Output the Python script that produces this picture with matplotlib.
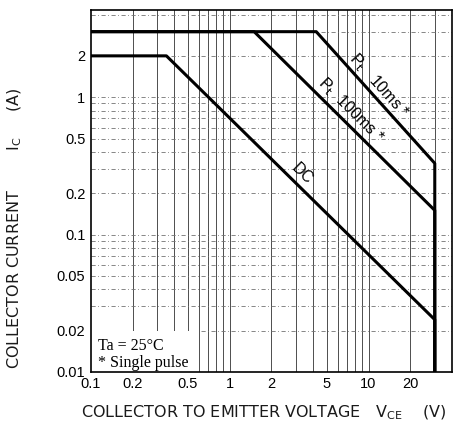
import matplotlib.pyplot as plt
import numpy as np
from matplotlib.patches import Rectangle

# safe operating area curves (V_CE in V, I_C in A)
dc_v = [0.1, 0.35, 30, 30]
dc_i = [2.0, 2.0, 0.024, 0.01]
p100_v = [0.1, 1.5, 30, 30]
p100_i = [3.0, 3.0, 0.15, 0.01]
p10_v = [0.1, 4.2, 30, 30]
p10_i = [3.0, 3.0, 0.33, 0.01]

xticks = [0.1, 0.2, 0.5, 1, 2, 5, 10, 20]
xticklabels = ['0.1', '0.2', '0.5', '1', '2', '5', '10', '20']
yticks = [0.01, 0.02, 0.05, 0.1, 0.2, 0.5, 1, 2]
yticklabels = ['0.01', '0.02', '0.05', '0.1', '0.2', '0.5', '1', '2']

plt.rcParams['font.family'] = ['Liberation Sans', 'DejaVu Sans']
plt.rcParams['mathtext.fontset'] = 'custom'
plt.rcParams['mathtext.rm'] = 'DejaVu Sans'
plt.rcParams['mathtext.it'] = 'DejaVu Sans'

fig = plt.figure(figsize=(4.59, 4.25), dpi=100)
ax = fig.add_axes([0.198, 0.125, 0.787, 0.851])
ax.set_xscale('log')
ax.set_yscale('log')
ax.set_xlim(0.1, 40)
ax.set_ylim(0.01, 4.3)

# grid: solid verticals, dash-dot horizontals
for d in [0.1, 1, 10]:
    for m in range(1, 10):
        v = d * m
        if 0.1 < v < 40:
            ax.axvline(v, color='0.3', lw=0.7, zorder=1)
for d in [0.01, 0.1, 1]:
    for m in range(1, 10):
        v = d * m
        if 0.01 < v < 4.3:
            ax.axhline(v, color='0.45', lw=0.6, ls=(0, (5, 3, 1, 3)), zorder=1)

ax.plot(dc_v, dc_i, color='black', lw=2.2, zorder=3)
ax.plot(p100_v, p100_i, color='black', lw=2.2, zorder=3)
ax.plot(p10_v, p10_i, color='black', lw=2.2, zorder=3)

ax.set_xticks(xticks)
ax.set_xticklabels(xticklabels)
ax.set_yticks(yticks)
ax.set_yticklabels(yticklabels)
ax.minorticks_off()
ax.tick_params(length=0, labelsize=10.5, pad=4)
for s in ax.spines.values():
    s.set_linewidth(1.2)


def angle_of(xs, ys):
    p = ax.transData.transform(np.column_stack([xs, ys]))
    return np.degrees(np.arctan2(p[1, 1] - p[0, 1], p[1, 0] - p[0, 0]))


a10 = angle_of(p10_v[1:3], p10_i[1:3])
a100 = angle_of(p100_v[1:3], p100_i[1:3])
adc = angle_of(dc_v[1:3], dc_i[1:3])

ax.text(11.8, 1.22, r'P$_\mathrm{t}$   10ms *', rotation=a10, rotation_mode='anchor',
        ha='center', va='center', fontsize=11.5, zorder=4)
ax.text(7.4, 0.8, r'P$_\mathrm{t}$  100ms *', rotation=a100, rotation_mode='anchor',
        ha='center', va='center', fontsize=11.5, zorder=4)
ax.text(3.35, 0.275, 'DC', rotation=adc, rotation_mode='anchor',
        ha='center', va='center', fontsize=11.5, zorder=4)

ax.add_patch(Rectangle((0.1, 0.01), 0.5, 0.01, facecolor='white', edgecolor='none', zorder=2))
ax.text(0.112, 0.0155, 'Ta = 25°C', fontsize=11.5, va='center', zorder=4,
        family='Liberation Serif')
ax.text(0.112, 0.0116, '* Single pulse', fontsize=11.5, va='center', zorder=4,
        family='Liberation Serif')

fig.text(0.575, 0.028, r'COLLECTOR TO EMITTER VOLTAGE   V$_\mathrm{CE}$    (V)',
         ha='center', va='center', fontsize=11.5, family='DejaVu Sans', color='0.1')
fig.text(0.033, 0.462, r'COLLECTOR CURRENT        I$_\mathrm{C}$     (A)', rotation=90,
         ha='center', va='center', fontsize=11.5, family='DejaVu Sans', color='0.1')

fig.savefig('out.png', dpi=100)
